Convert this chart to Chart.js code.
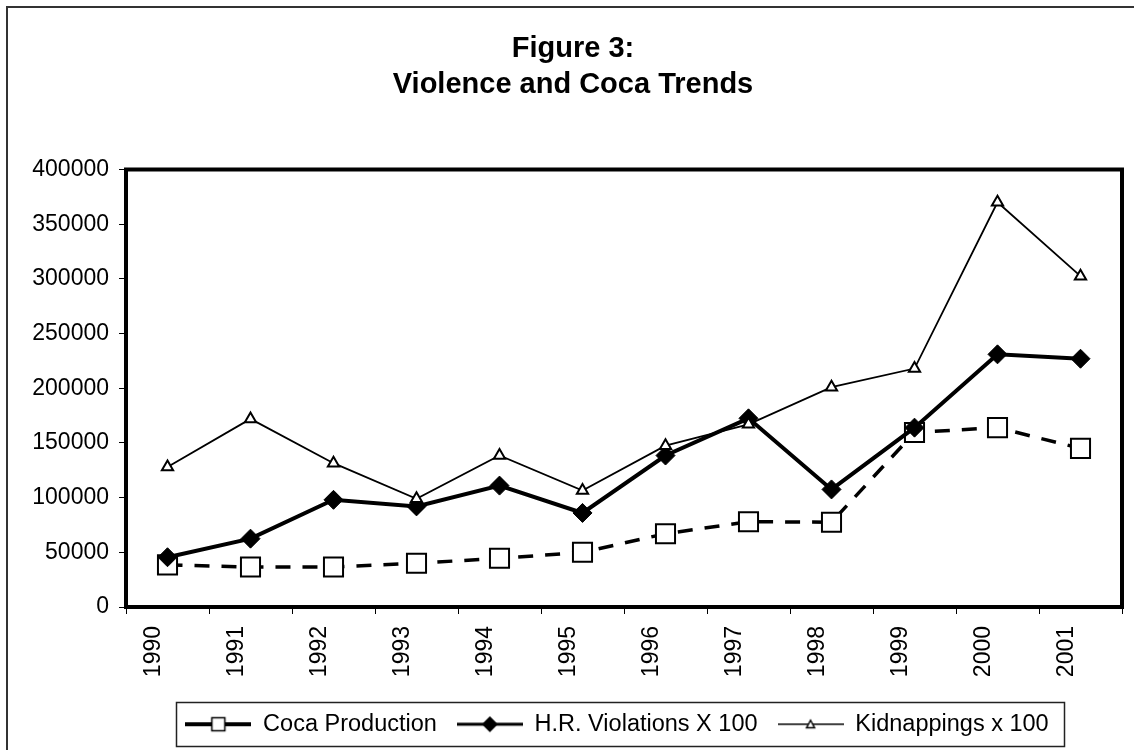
<!DOCTYPE html>
<html>
<head>
<meta charset="utf-8">
<title>Violence and Coca Trends</title>
<script src="https://cdn.jsdelivr.net/npm/chart.js@4.4.1/dist/chart.umd.min.js"></script>
<style>
  html, body { margin: 0; padding: 0; background: #fff; }
  canvas { display: block; }
</style>
</head>
<body>
<canvas id="chart" width="1134" height="750"></canvas>
<script>
// ---- data ----
const years = ['1990', '1991', '1992', '1993', '1994', '1995', '1996', '1997', '1998', '1999', '2000', '2001'];
const cocaProduction = [38500, 36500, 36500, 40000, 44500, 50000, 67000, 78000, 77500, 159500, 164000, 145000];
const hrViolations   = [45500, 62500, 98000, 92000, 111000, 86000, 138500, 172500, 107500, 164000, 231000, 227000];
const kidnappings    = [128000, 172000, 131500, 99000, 138500, 106500, 147500, 167000, 201000, 218000, 370000, 302500];
const yTickValues = [0, 50000, 100000, 150000, 200000, 250000, 300000, 350000, 400000];
const seriesNames = ['Coca Production', 'H.R. Violations X 100', 'Kidnappings x 100'];
const titleLines = ['Figure 3:', 'Violence and Coca Trends'];

const FONT = '"Liberation Sans", Arial, Helvetica, sans-serif';

// Legend samples: a short line with the series marker in the middle.
function legendSwatch(kind) {
  const w = 66, h = 24, cx = w / 2, cy = h / 2;
  const c = document.createElement('canvas');
  c.width = w; c.height = h;
  const g = c.getContext('2d');
  g.strokeStyle = '#000';
  g.lineWidth = kind === 'coca' ? 4 : kind === 'hr' ? 3 : 1.5;
  g.beginPath(); g.moveTo(0, cy); g.lineTo(w, cy); g.stroke();
  if (kind === 'coca') {
    g.fillStyle = '#fff';
    g.fillRect(cx - 6.5, cy - 6.5, 13, 13);
    g.lineWidth = 1.5;
    g.strokeRect(cx - 6.5, cy - 6.5, 13, 13);
  } else if (kind === 'hr') {
    g.fillStyle = '#000';
    g.beginPath();
    g.moveTo(cx - 8, cy); g.lineTo(cx, cy - 8); g.lineTo(cx + 8, cy); g.lineTo(cx, cy + 8);
    g.closePath(); g.fill();
  } else {
    g.fillStyle = '#fff';
    g.lineWidth = 1.5;
    g.beginPath();
    g.moveTo(cx, cy - 4); g.lineTo(cx + 4, cy + 3.5); g.lineTo(cx - 4, cy + 3.5);
    g.closePath(); g.fill(); g.stroke();
  }
  return c;
}
const swatches = [legendSwatch('coca'), legendSwatch('hr'), legendSwatch('kid')];

// Nudge the title a little right and the legend a little left of their centred spots.
const nudgePlugin = {
  id: 'nudge',
  afterLayout(chart) {
    if (chart.titleBlock) { chart.titleBlock.left += 7; chart.titleBlock.right += 7; }
    if (chart.legend) { chart.legend.left -= 7; chart.legend.right -= 7; }
  }
};

// Page frame, plot-area frame and legend box.
const framePlugin = {
  id: 'frames',
  beforeDraw(chart) {
    const ctx = chart.ctx;
    ctx.save();
    ctx.fillStyle = '#fff';
    ctx.fillRect(0, 0, chart.width, chart.height);
    ctx.strokeStyle = '#333';
    ctx.lineWidth = 2;
    ctx.strokeRect(7, 7, chart.width + 20, chart.height + 20);
    ctx.restore();
  },
  beforeDatasetsDraw(chart) {
    const { ctx, chartArea: a } = chart;
    ctx.save();
    ctx.strokeStyle = '#000';
    ctx.lineWidth = 4;
    ctx.strokeRect(a.left, a.top, a.right - a.left, a.bottom - a.top);
    ctx.restore();
  },
  afterDraw(chart) {
    const lg = chart.legend;
    if (!lg || !lg.legendHitBoxes || !lg.legendHitBoxes.length) return;
    const hb = lg.legendHitBoxes;
    const left = Math.min(...hb.map(b => b.left)) - 9;
    const right = Math.max(...hb.map(b => b.left + b.width)) + 16;
    const mid = hb[0].top + hb[0].height / 2;
    const top = mid - 22;
    const bottom = mid + 22;
    const ctx = chart.ctx;
    ctx.save();
    ctx.strokeStyle = '#222';
    ctx.lineWidth = 1.5;
    ctx.strokeRect(Math.round(left) + 0.5, Math.round(top) + 0.5, Math.round(right - left), Math.round(bottom - top));
    ctx.restore();
  }
};

new Chart(document.getElementById('chart'), {
  type: 'line',
  data: {
    labels: years,
    datasets: [
      {
        label: seriesNames[0], data: cocaProduction, order: 3,
        borderColor: '#000', borderWidth: 3.5, borderDash: [15, 12], tension: 0, fill: false,
        pointStyle: 'rect', pointRadius: 13.5, pointHoverRadius: 13.5,
        pointBackgroundColor: '#fff', pointBorderColor: '#000', pointBorderWidth: 2
      },
      {
        label: seriesNames[1], data: hrViolations, order: 2,
        borderColor: '#000', borderWidth: 4, tension: 0, fill: false,
        pointStyle: 'rectRot', pointRadius: 9.5, pointHoverRadius: 9.5,
        pointBackgroundColor: '#000', pointBorderColor: '#000', pointBorderWidth: 1
      },
      {
        label: seriesNames[2], data: kidnappings, order: 1,
        borderColor: '#000', borderWidth: 1.8, tension: 0, fill: false,
        pointStyle: 'triangle', pointRadius: 6.5, pointHoverRadius: 6.5,
        pointBackgroundColor: '#fff', pointBorderColor: '#000', pointBorderWidth: 2
      }
    ]
  },
  options: {
    responsive: false,
    animation: false,
    devicePixelRatio: 1,
    layout: { autoPadding: false, padding: { left: 10, right: 12, top: 0, bottom: 4 } },
    plugins: {
      title: {
        display: true, text: titleLines, color: '#000',
        font: { family: FONT, size: 29, weight: 'bold', lineHeight: 1.25 },
        padding: { top: 31, bottom: 66 }
      },
      legend: {
        display: true, position: 'bottom', fullSize: false,
        labels: {
          usePointStyle: true, pointStyleWidth: 66, padding: 20, color: '#000',
          font: { family: FONT, size: 23.5 },
          sort: (a, b) => a.datasetIndex - b.datasetIndex,
          generateLabels: (chart) => {
            const items = Chart.defaults.plugins.legend.labels.generateLabels(chart);
            items.forEach(it => { it.pointStyle = swatches[it.datasetIndex]; });
            return items;
          }
        }
      },
      tooltip: { enabled: false }
    },
    scales: {
      x: {
        type: 'category', offset: true,
        grid: { display: true, offset: true, drawOnChartArea: false, drawTicks: true, tickLength: 7, color: '#000', lineWidth: 1 },
        border: { display: true, color: '#000', width: 4 },
        ticks: { autoSkip: false, minRotation: 90, maxRotation: 90, padding: 12, labelOffset: -14, color: '#000', font: { family: FONT, size: 23 } },
        afterFit: (s) => { s.height = 85.5; }
      },
      y: {
        min: 0, max: 400000,
        afterBuildTicks: (s) => { s.ticks = yTickValues.map(v => ({ value: v })); },
        grid: { drawOnChartArea: false, drawTicks: true, tickLength: 7, color: '#000', lineWidth: 1 },
        border: { display: true, color: '#000', width: 4 },
        ticks: { padding: 10, color: '#000', font: { family: FONT, size: 23 }, callback: (v) => String(v) },
        afterFit: (s) => { s.width = 116; }
      }
    }
  },
  plugins: [nudgePlugin, framePlugin]
});
</script>
</body>
</html>
